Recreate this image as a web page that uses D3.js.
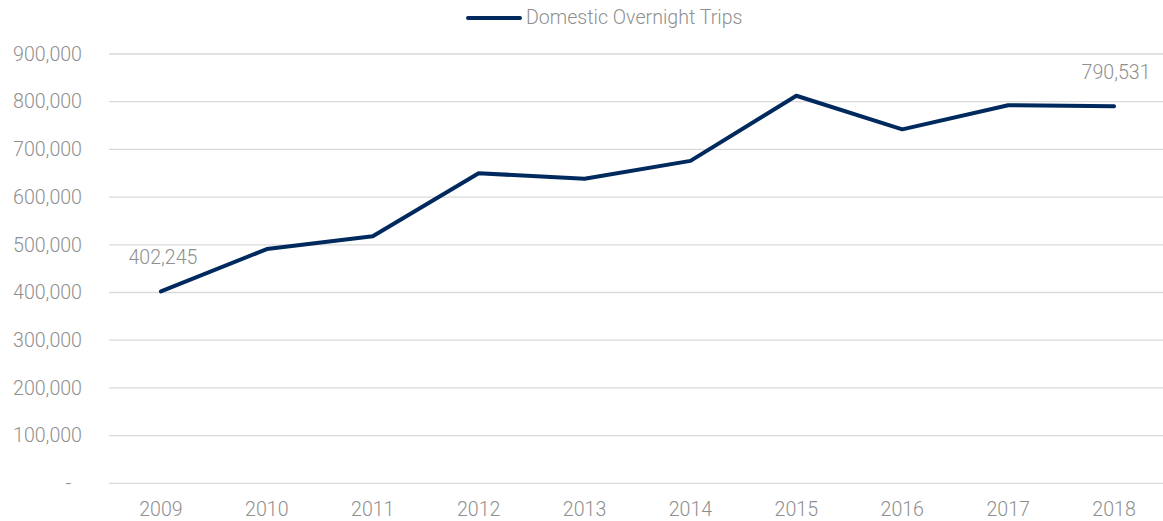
<!DOCTYPE html>
<html>
<head>
<meta charset="utf-8">
<script src="https://cdn.jsdelivr.net/npm/d3@7"></script>
<style>
  body { margin: 0; background: #fff; }
  svg { display: block; font-family: Roboto, "Open Sans", sans-serif; font-weight: 300; }
</style>
</head>
<body>
<svg id="chart" width="1163" height="521"></svg>
<script>
// data
const years = ["2009", "2010", "2011", "2012", "2013", "2014", "2015", "2016", "2017", "2018"];
const trips = [402245, 491000, 518000, 650000, 638500, 676000, 812500, 742000, 792500, 790531];
const yTicks = [0, 100000, 200000, 300000, 400000, 500000, 600000, 700000, 800000, 900000];
const labelled = ["2009", "2018"];
const seriesName = "Domestic Overnight Trips";

const svg = d3.select("#chart");
const textColor = "#8f8f8f";
const lineColor = "#002a5e";
const fontSize = "19.6px";

const x = d3.scaleBand().domain(years).range([108, 1167]);
const y = d3.scaleLinear().domain([0, 900000]).range([483.3, 54]);

// gridlines
svg.append("g")
  .selectAll("line")
  .data(yTicks)
  .enter()
  .append("line")
  .attr("x1", 109)
  .attr("x2", 1163)
  .attr("y1", d => y(d))
  .attr("y2", d => y(d))
  .attr("stroke", "#d9d9d9")
  .attr("stroke-width", 1.3);

// y axis labels
const yAxis = svg.append("g")
  .attr("transform", "translate(82,0)")
  .call(d3.axisLeft(y).tickValues(yTicks).tickSize(0).tickPadding(0)
    .tickFormat(d => d === 0 ? "-" : d3.format(",")(d)));
yAxis.select(".domain").remove();
yAxis.selectAll("text")
  .attr("fill", textColor)
  .style("font-size", fontSize)
  .style("font-family", "Roboto, sans-serif")
  .style("font-weight", 300)
  .attr("dx", d => d === 0 ? -11 : 0);

// x axis labels
const xAxis = svg.append("g")
  .attr("transform", "translate(0,502)")
  .call(d3.axisBottom(x).tickSize(0).tickPadding(0));
xAxis.select(".domain").remove();
xAxis.selectAll("text")
  .attr("fill", textColor)
  .style("font-size", fontSize)
  .style("font-family", "Roboto, sans-serif")
  .style("font-weight", 300);

// the line
const line = d3.line()
  .x((d, i) => x(years[i]) + x.bandwidth() / 2)
  .y(d => y(d));

svg.append("path")
  .datum(trips)
  .attr("d", line)
  .attr("fill", "none")
  .attr("stroke", lineColor)
  .attr("stroke-width", 4)
  .attr("stroke-linejoin", "round")
  .attr("stroke-linecap", "round");

// data labels for first and last point
svg.append("g")
  .selectAll("text")
  .data(years.map((yr, i) => ({ yr, v: trips[i] })).filter(d => labelled.includes(d.yr)))
  .enter()
  .append("text")
  .attr("x", d => x(d.yr) + x.bandwidth() / 2 + 2)
  .attr("y", d => y(d.v) - 27)
  .attr("text-anchor", "middle")
  .attr("fill", textColor)
  .style("font-size", fontSize)
  .text(d => d3.format(",")(d.v));

// legend
const legend = svg.append("g");
legend.append("line")
  .attr("x1", 468).attr("x2", 520)
  .attr("y1", 18).attr("y2", 18)
  .attr("stroke", lineColor)
  .attr("stroke-width", 4)
  .attr("stroke-linecap", "round");
legend.append("text")
  .attr("x", 526)
  .attr("y", 24)
  .attr("fill", textColor)
  .style("font-size", fontSize)
  .text(seriesName);
</script>
</body>
</html>
